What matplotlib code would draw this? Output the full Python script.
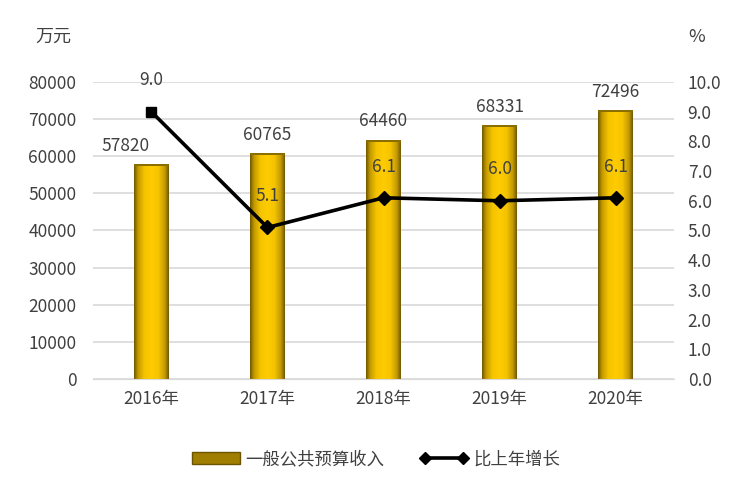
import numpy as np
import matplotlib.pyplot as plt
from matplotlib.lines import Line2D
from matplotlib.patches import Rectangle
from matplotlib.colors import LinearSegmentedColormap

plt.rcParams['font.family'] = ['Noto Sans CJK SC', 'DejaVu Sans']

years = ["2016年", "2017年", "2018年", "2019年", "2020年"]
revenue = [57820, 60765, 64460, 68331, 72496]
growth = [9.0, 5.1, 6.1, 6.0, 6.1]
left_ticks = [0, 10000, 20000, 30000, 40000, 50000, 60000, 70000, 80000]
right_ticks = [0.0, 1.0, 2.0, 3.0, 4.0, 5.0, 6.0, 7.0, 8.0, 9.0, 10.0]

txt = "#404040"
fig = plt.figure(figsize=(7.52, 4.94), dpi=100)
ax = fig.add_axes([0.124, 0.233, 0.772, 0.601])
ax2 = ax.twinx()

x = np.arange(len(years))
width = 0.3

# gradient bars: dark olive at the very edges, bright yellow over most of the bar
cmap = LinearSegmentedColormap.from_list(
    "gold", [(0, "#6e5800"), (0.12, "#c49a00"), (0.3, "#f5c400"), (0.5, "#ffcc00"),
             (0.7, "#f5c400"), (0.88, "#c49a00"), (1, "#6e5800")])
grad = np.linspace(0, 1, 256).reshape(1, -1)
bars = ax.bar(x, revenue, width, color="#ffcc00", zorder=2)
for b in bars:
    bx, by = b.get_x(), b.get_y()
    bw, bh = b.get_width(), b.get_height()
    im = ax.imshow(grad, cmap=cmap, aspect="auto", extent=[bx, bx + bw, by, by + bh], zorder=2.1)
    im.set_clip_path(b)
    ax.add_patch(Rectangle((bx, by + bh - 500), bw, 500, color="#8a6e00", zorder=2.2, lw=0))
for xi, v in zip(x, revenue):
    ax.text(xi - 0.22 if xi == 0 else xi, v + 2500, str(v), ha="center", va="bottom", fontsize=12.5, color=txt)

ax.set_xlim(-0.5, len(years) - 0.5)
ax.set_ylim(0, 80000)
ax.set_yticks(left_ticks)
ax.set_xticks(x)
ax.set_xticklabels(years)
ax.grid(axis="y", color="#d9d9d9", lw=1.2, zorder=0)
ax.set_axisbelow(True)
for s in ["top", "right", "left"]:
    ax.spines[s].set_visible(False)
ax.spines["bottom"].set_color("#d9d9d9")
ax.tick_params(axis="both", length=0, labelsize=12.5, labelcolor=txt)
ax.tick_params(axis="y", pad=12)
ax.tick_params(axis="x", pad=8)

# line: square marker on the first point, diamonds on the rest
ax2.plot(x, growth, color="black", lw=2.6, zorder=3)
ax2.plot(x[1:], growth[1:], color="black", marker="D", ms=7, ls="none", zorder=4)
ax2.plot(x[:1], growth[:1], color="black", marker="s", ms=7, ls="none", zorder=4)
for xi, g in zip(x, growth):
    ax2.text(xi, g + 0.75, f"{g:.1f}", ha="center", va="bottom", fontsize=12.5, color=txt)
ax2.set_ylim(0, 10)
ax2.set_yticks(right_ticks)
ax2.set_yticklabels([f"{t:.1f}" for t in right_ticks])
for s in ax2.spines.values():
    s.set_visible(False)
ax2.tick_params(axis="y", length=0, labelsize=12.5, labelcolor=txt, pad=10)

fig.text(0.047, 0.925, "万元", fontsize=13, color=txt, va="center")
fig.text(0.915, 0.925, "%", fontsize=13, color=txt, va="center")

handles = [Rectangle((0, 0), 1, 1, color="#a07e00", ec="#6b5500"),
           Line2D([0], [0], color="black", lw=2.6, marker="D", ms=6)]
fig.legend(handles, ["一般公共预算收入", "比上年增长"], loc="center", bbox_to_anchor=(0.5, 0.07),
           ncol=2, frameon=False, fontsize=12.5, labelcolor=txt, handlelength=2.8,
           handletextpad=0.3, columnspacing=2.0, numpoints=2)

fig.savefig("out.png", dpi=100)
